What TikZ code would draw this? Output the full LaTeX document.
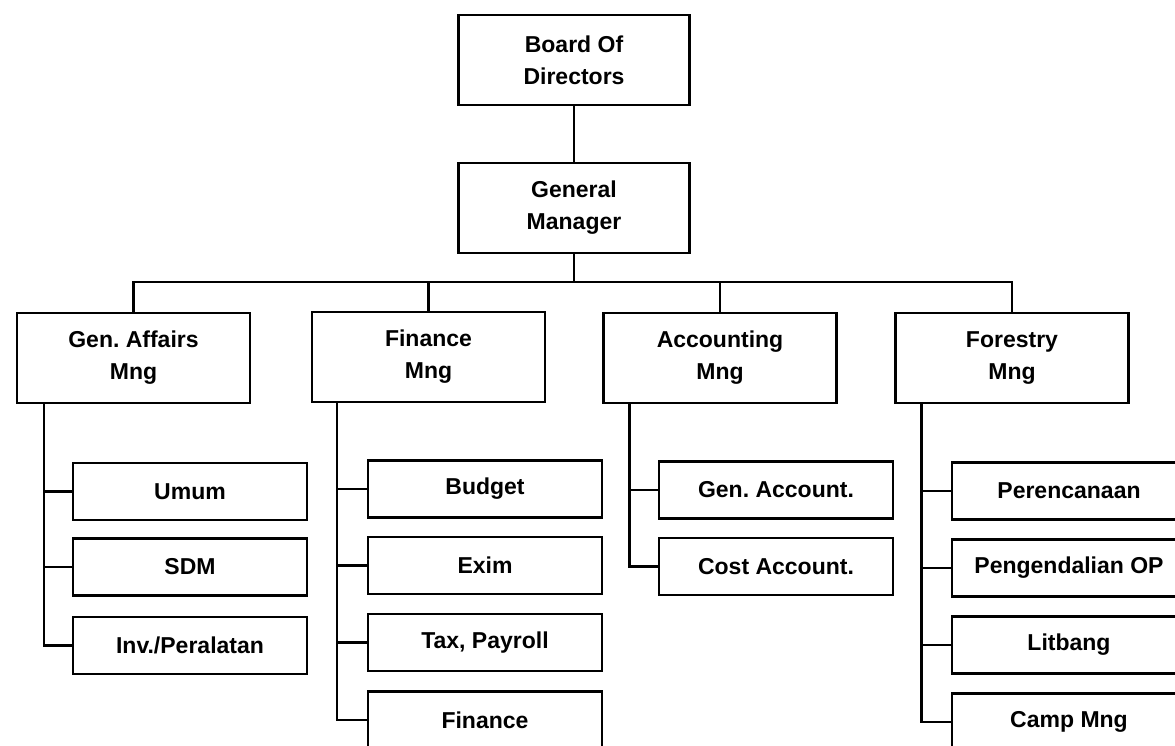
\documentclass[tikz,border=0pt]{standalone}
\usepackage{fontspec}
\setmainfont{Liberation Sans}
\usetikzlibrary{calc}
\frenchspacing
\tikzset{
  box/.style={draw, line width=2.4pt, rectangle, align=center, inner sep=0pt,
    font=\bfseries\fontsize{23}{32}\selectfont},
  topbox/.style={box, minimum width=231pt, minimum height=90pt},
  mgrbox/.style={box, minimum width=233pt, minimum height=90pt},
  unitbox/.style={box, minimum width=234pt, minimum height=57pt},
  link/.style={line width=2.4pt}
}
\begin{document}
\begin{tikzpicture}[x=1pt,y=-1pt]
\useasboundingbox (0,0) rectangle (1175,746);
\clip (0,0) rectangle (1175,746);
% top
\node[topbox] (bod) at (574,60) {Board Of\\Directors};
\node[topbox] (gm) at (574,208) {General\\Manager};
% managers
\node[mgrbox] (ga) at (133.5,358) {Gen. Affairs\\Mng};
\node[mgrbox] (fin) at (428.5,357) {Finance\\Mng};
\node[mgrbox] (acc) at (720,358) {Accounting\\Mng};
\node[mgrbox] (for) at (1012,358) {Forestry\\Mng};
% units
\node[unitbox] (umum) at (190,491.5) {Umum};
\node[unitbox] (sdm) at (190,567) {SDM};
\node[unitbox] (inv) at (190,645.5) {Inv./Peralatan};
\node[unitbox] (budget) at (485,489) {Budget};
\node[unitbox] (exim) at (485,565.5) {Exim};
\node[unitbox] (tax) at (485,642.5) {Tax, Payroll};
\node[unitbox] (finu) at (485,720) {Finance};
\node[unitbox] (genacc) at (776,490) {Gen. Account.};
\node[unitbox] (costacc) at (776,566.5) {Cost Account.};
\node[unitbox] (peren) at (1069,491) {Perencanaan};
\node[unitbox] (pengen) at (1069,568) {Pengendalian OP};
\node[unitbox] (litbang) at (1069,645) {Litbang};
\node[unitbox] (camp) at (1069,722) {Camp Mng};
% connectors
\draw[link] (bod) -- (gm);
\coordinate (bus) at (574,282);
\draw[link] (gm.south) -- (bus);
\draw[link] (ga.north) |- (bus);
\draw[link] (fin.north) |- (bus);
\draw[link] (acc.north) |- (bus);
\draw[link] (for.north) |- (bus);
\coordinate (gat) at ($(ga.south west)+(28,0)$);
\coordinate (fint) at ($(fin.south west)+(26,0)$);
\coordinate (acct) at ($(acc.south west)+(27,0)$);
\coordinate (fort) at ($(for.south west)+(27,0)$);
\foreach \u in {umum,sdm,inv} \draw[link] (gat) |- (\u.west);
\foreach \u in {budget,exim,tax,finu} \draw[link] (fint) |- (\u.west);
\foreach \u in {genacc,costacc} \draw[link] (acct) |- (\u.west);
\foreach \u in {peren,pengen,litbang,camp} \draw[link] (fort) |- (\u.west);
\end{tikzpicture}
\end{document}
